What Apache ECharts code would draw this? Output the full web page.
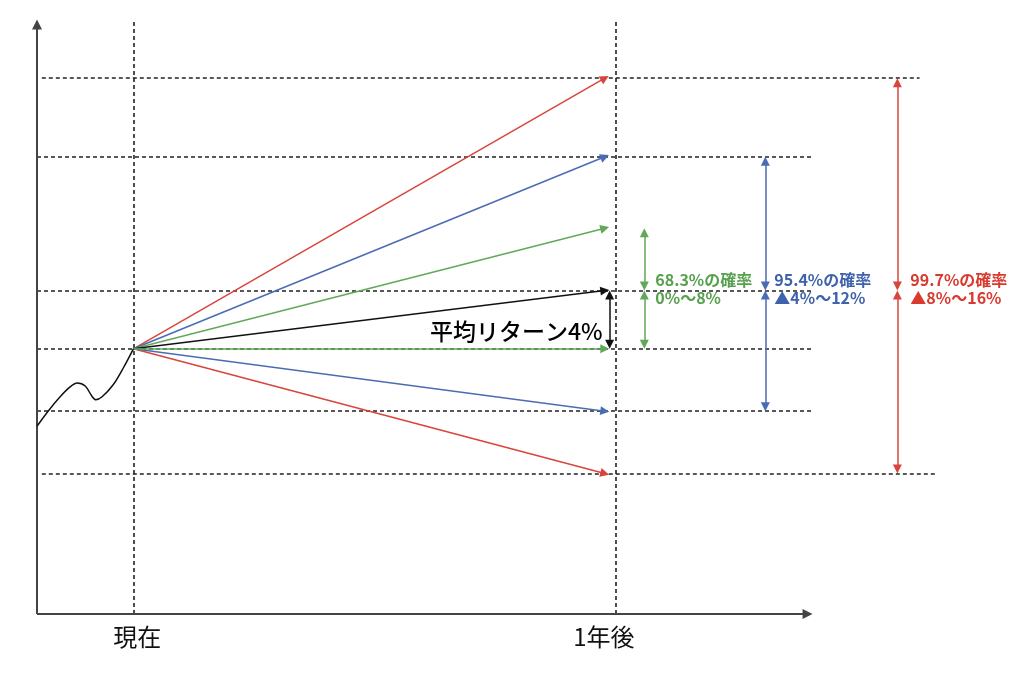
<!DOCTYPE html>
<html>
<head>
<meta charset="utf-8">
<script src="https://cdn.jsdelivr.net/npm/echarts@6/dist/echarts.min.js"></script>
<style>
  html, body { margin: 0; padding: 0; background: #fff; }
  #chart { width: 1024px; height: 676px; }
</style>
</head>
<body>
<div id="chart"></div>
<script>
// ---------- data (schematic levels) ----------
const timeLabels = ['現在', '1年後'];
const timeValues = [0, 1];                  // years
const startLevel = 44.2;                    // price level now (0% return)
const meanLevel = 53.9;                     // +4% mean return after 1 year
const meanLabel = '平均リターン4%';

// bands: 99.7% (±3σ), 95.4% (±2σ), 68.3% (±1σ)
const bandNames = ['99.7%の確率', '95.4%の確率', '68.3%の確率'];
const bandRanges = ['▲8%～16%', '▲4%～12%', '0%～8%'];
const bandUpper = [89.3, 76.2, 64.3];      // +16%, +12%, +8%
const bandLower = [23.4, 33.8, 44.2];      // -8%, -4%, 0%

// past price path before "now"
const historyX = [-0.2, -0.177, -0.152, -0.132, -0.117, -0.1, -0.086, -0.078, -0.065, -0.042, -0.021, 0];
const historyY = [31.3, 33.8, 36.2, 37.8, 38.5, 38.0, 36.3, 35.7, 36.2, 38.2, 41.0, 44.2];

// dashed guide levels
const guideLevels = [89.3, 76.2, 53.9, 44.2, 33.8, 23.4];

// ---------- layout / style ----------
const GRID = { left: 37, right: 23, top: 14, bottom: 62 };
const X_MIN = -0.2, X_MAX = 1.8, Y_MIN = 0, Y_MAX = 100;
const PX_X = (1024 - GRID.left - GRID.right) / (X_MAX - X_MIN);
const PX_Y = (676 - GRID.top - GRID.bottom) / (Y_MAX - Y_MIN);
const AH = 9;                                   // arrow head size (px)
const insetY = (AH / 2) / PX_Y;
const insetX = (AH / 2) / PX_X;
const bandColors = ['#d9453b', '#4a6cb3', '#62a85a'];
const bandTextColors = ['#d83a30', '#3f62ad', '#56a04e'];
const bandArrowX = [1.585, 1.311, 1.06];
const bandLabelDist = [13, 9, 11];
const guideFrom = [-0.19, -0.2, -0.2, -0.2, -0.2, -0.19];
const guideTo = [1.631, 1.407, 1.407, 1.407, 1.407, 1.664];
const fanEndX = 0.978;
const vTop = 98.8;
const CJK = '"Noto Sans CJK JP", "Noto Sans", sans-serif';

// ---------- build series data ----------
const guideData = guideLevels.map((lv, i) => ({ coords: [[guideFrom[i], lv], [guideTo[i], lv]] }));
timeValues.forEach(t => guideData.push({ coords: [[t, 0], [t, vTop]] }));

const axisData = [
  { coords: [[X_MIN, 0], [X_MIN, 99 - insetY]] },
  { coords: [[X_MIN, 0], [1.408 - insetX, 0]] }
];

const fanData = [];
bandUpper.forEach((lv, i) => fanData.push({ coords: [[0, startLevel], [fanEndX, lv]], lineStyle: { color: bandColors[i] } }));
fanData.push({ coords: [[0, startLevel], [fanEndX, meanLevel]], lineStyle: { color: '#111' } });
bandLower.forEach((lv, i) => fanData.push({ coords: [[0, startLevel], [fanEndX, lv]], lineStyle: { color: bandColors[i] } }));

const rangeData = [];
bandUpper.forEach((lv, i) => {
  const x = bandArrowX[i];
  rangeData.push({ coords: [[x, meanLevel + insetY], [x, lv - insetY]], lineStyle: { color: bandColors[i] } });
  rangeData.push({ coords: [[x, meanLevel - insetY], [x, bandLower[i] + insetY]], lineStyle: { color: bandColors[i] } });
});
rangeData.push({ coords: [[0.988, meanLevel - insetY], [0.988, startLevel + insetY]], lineStyle: { color: '#111' } });

const textData = [];
timeLabels.forEach((name, i) => textData.push({
  name, value: [timeValues[i] + (i === 0 ? 0.008 : -0.024), -3.8],
  label: { position: 'inside', fontSize: 24, color: '#111' }
}));
textData.push({
  name: meanLabel, value: [0.988, 47.2],
  label: { position: 'left', distance: 7, fontSize: 23, fontWeight: 500, color: '#000' }
});
bandNames.forEach((name, i) => textData.push({
  name: name + '\n' + bandRanges[i], value: [bandArrowX[i], meanLevel],
  label: { position: 'right', distance: bandLabelDist[i], offset: [0, -2], fontSize: 16, fontWeight: 'bold',
           lineHeight: 18, color: bandTextColors[i], align: 'left' }
}));

const chart = echarts.init(document.getElementById('chart'), null, { renderer: 'canvas' });
chart.setOption({
  animation: false,
  backgroundColor: '#fff',
  grid: GRID,
  xAxis: { type: 'value', min: X_MIN, max: X_MAX, show: false },
  yAxis: { type: 'value', min: Y_MIN, max: Y_MAX, show: false },
  textStyle: { fontFamily: CJK },
  series: [
    { type: 'lines', coordinateSystem: 'cartesian2d', clip: false, silent: true, symbol: 'none',
      lineStyle: { color: '#222', width: 1.6, type: [4, 3], opacity: 1 }, data: guideData },
    { type: 'lines', coordinateSystem: 'cartesian2d', clip: false, silent: true,
      symbol: ['none', 'triangle'], symbolSize: 10,
      lineStyle: { color: '#444', width: 2, opacity: 1 }, data: axisData },
    { type: 'line', data: historyX.map((x, i) => [x, historyY[i]]), smooth: 0.3, showSymbol: false,
      clip: false, silent: true, lineStyle: { color: '#111', width: 1.5 } },
    { type: 'lines', coordinateSystem: 'cartesian2d', clip: false, silent: true,
      symbol: ['none', 'triangle'], symbolSize: AH,
      lineStyle: { width: 1.5, opacity: 1 }, data: fanData },
    { type: 'lines', coordinateSystem: 'cartesian2d', clip: false, silent: true,
      symbol: ['triangle', 'triangle'], symbolSize: AH,
      lineStyle: { width: 1.5, opacity: 1 }, data: rangeData },
    { type: 'scatter', symbolSize: 0, clip: false, silent: true, itemStyle: { opacity: 1 },
      label: { show: true, formatter: p => p.name, fontFamily: CJK, opacity: 1 },
      data: textData }
  ]
});
</script>
</body>
</html>
